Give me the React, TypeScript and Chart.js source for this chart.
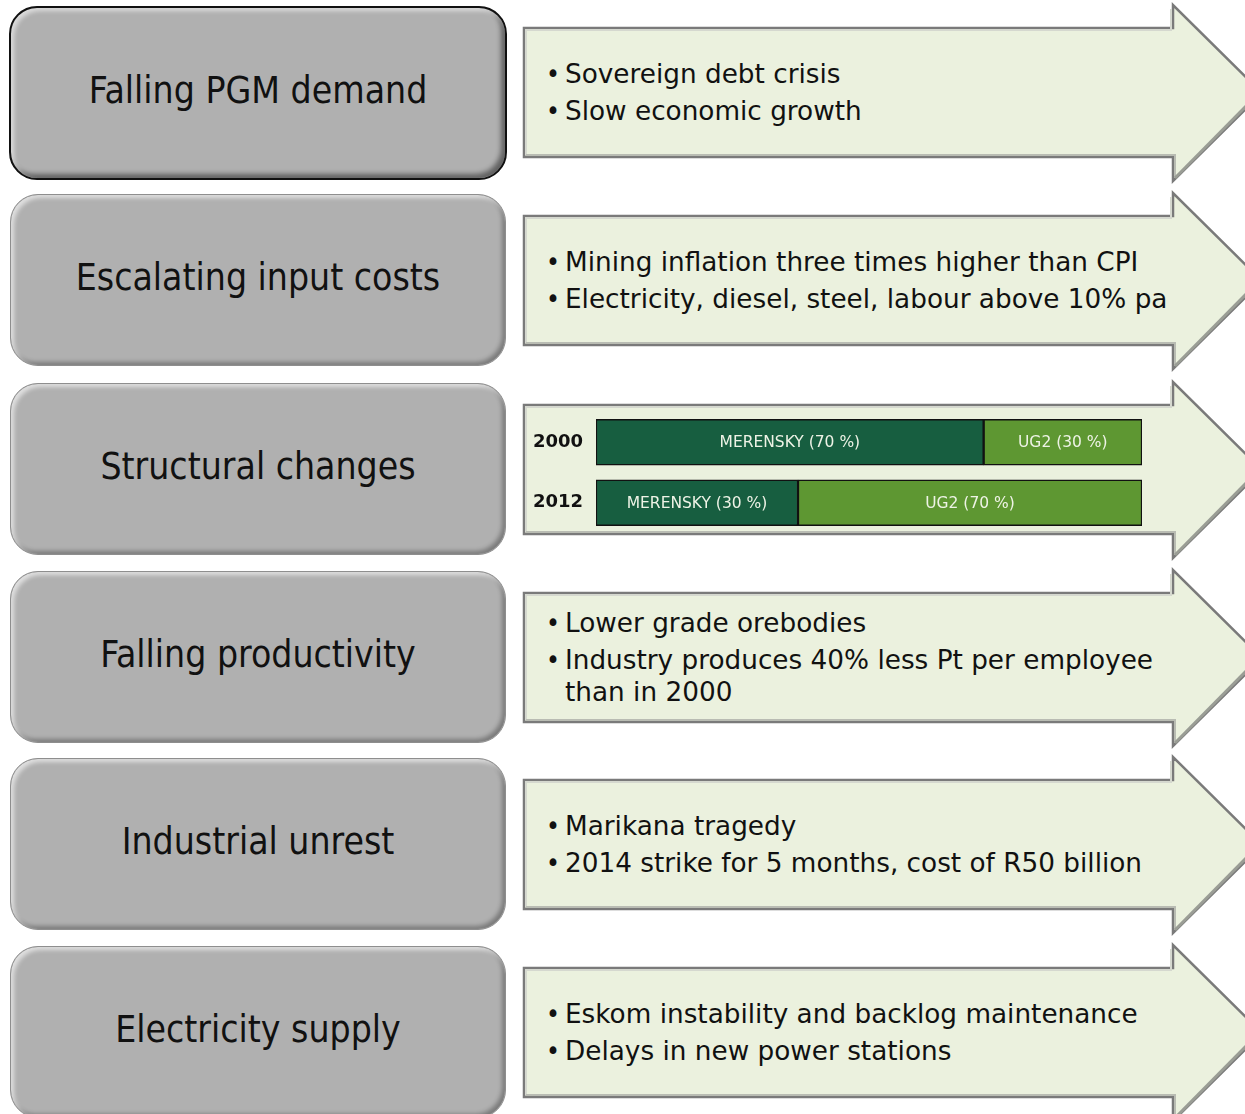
import React, { useEffect, useRef } from "react";
import { Chart, registerables } from "chart.js";

Chart.register(...registerables);

// ---- content ----
const titles = [
  "Falling PGM demand",
  "Escalating input costs",
  "Structural changes",
  "Falling productivity",
  "Industrial unrest",
  "Electricity supply",
];

const bulletsDemand = ["Sovereign debt crisis", "Slow economic growth"];
const bulletsCosts = [
  "Mining inflation three times higher than CPI",
  "Electricity, diesel, steel, labour above 10% pa",
];
const bulletsProductivity = [
  "Lower grade orebodies",
  "Industry produces 40% less Pt per employee than in 2000",
];
const bulletsUnrest = ["Marikana tragedy", "2014 strike for 5 months, cost of R50 billion"];
const bulletsElectricity = [
  "Eskom instability and backlog maintenance",
  "Delays in new power stations",
];

// ---- chart data (structural changes) ----
const years = ["2000", "2012"];
const merensky = [71, 37];
const ug2 = [29, 63];
const merenskyLabels = ["MERENSKY (70 %)", "MERENSKY (30 %)"];
const ug2Labels = ["UG2 (30 %)", "UG2 (70 %)"];

const FONT_C = '"DejaVu Sans Condensed", "DejaVu Sans", sans-serif';
const FONT = '"DejaVu Sans", sans-serif';
const rowTops = [6, 194, 383, 571, 758, 946];

function arrowPoints(T: number) {
  const pts = [
    [524, T + 22],
    [1173, T + 22],
    [1173, T - 1],
    [1262, T + 87],
    [1173, T + 175],
    [1173, T + 151],
    [524, T + 151],
  ];
  return pts.map((p) => p.join(",")).join(" ");
}

function BarChart() {
  const ref = useRef<HTMLCanvasElement | null>(null);
  useEffect(() => {
    if (!ref.current) return;
    const labelsByDataset = [merenskyLabels, ug2Labels];
    const labelPlugin = {
      id: "segLabels",
      afterDatasetsDraw(chart: any) {
        const ctx = chart.ctx;
        ctx.save();
        ctx.font = `15.5px ${FONT}`;
        ctx.fillStyle = "#eef3e6";
        ctx.textAlign = "center";
        ctx.textBaseline = "middle";
        chart.data.datasets.forEach((_ds: any, di: number) => {
          const meta = chart.getDatasetMeta(di);
          meta.data.forEach((bar: any, i: number) => {
            const p = bar.getProps(["x", "y", "base"], true);
            ctx.fillText(labelsByDataset[di][i], (p.x + p.base) / 2, p.y + 1);
          });
        });
        ctx.restore();
      },
    };
    const chart = new Chart(ref.current, {
      type: "bar",
      data: {
        labels: years,
        datasets: [
          {
            label: "Merensky",
            data: merensky,
            backgroundColor: "#175e40",
            borderColor: "#111",
            borderWidth: 1.5,
            borderSkipped: false,
            barThickness: 46,
          },
          {
            label: "UG2",
            data: ug2,
            backgroundColor: "#5e9732",
            borderColor: "#111",
            borderWidth: 1.5,
            borderSkipped: false,
            barThickness: 46,
          },
        ],
      },
      options: {
        indexAxis: "y",
        responsive: false,
        animation: false,
        devicePixelRatio: 1,
        layout: { padding: 0 },
        plugins: { legend: { display: false }, tooltip: { enabled: false } },
        scales: {
          x: { stacked: true, min: 0, max: 100, display: false },
          y: {
            stacked: true,
            grid: { display: false, drawTicks: false },
            border: { display: false },
            ticks: {
              padding: 13,
              color: "#111",
              font: { family: FONT, weight: "bold", size: 18 },
            },
            afterFit(scale: any) {
              scale.width = 66;
              scale.paddingTop = 0;
              scale.paddingBottom = 0;
            },
          },
        },
      },
      plugins: [labelPlugin],
    } as any);
    return () => chart.destroy();
  }, []);
  return (
    <canvas
      ref={ref}
      width={612}
      height={121}
      style={{ position: "absolute", left: 530, top: 412, width: 612, height: 121 }}
    />
  );
}

function Bullets({ items, top }: { items: string[]; top: number }) {
  return (
    <div
      style={{
        position: "absolute",
        left: 546,
        top: top + 22,
        width: 624,
        height: 129,
        display: "flex",
        flexDirection: "column",
        justifyContent: "center",
        fontFamily: FONT,
        fontSize: 26.3,
        lineHeight: "32px",
        color: "#111",
      }}
    >
      {items.map((t, i) => (
        <div key={i} style={{ position: "relative", paddingLeft: 19, marginTop: i ? 5 : 0 }}>
          <span style={{ position: "absolute", left: 0, top: 0, fontFamily: FONT_C }}>•</span>
          {t}
        </div>
      ))}
    </div>
  );
}

export default function App() {
  const bulletLists: (string[] | null)[] = [
    bulletsDemand,
    bulletsCosts,
    null,
    bulletsProductivity,
    bulletsUnrest,
    bulletsElectricity,
  ];
  return (
    <div
      style={{
        position: "absolute",
        left: 0,
        top: 0,
        width: 1245,
        height: 1114,
        overflow: "hidden",
        background: "#fff",
      }}
    >
      <svg width={1245} height={1114} style={{ position: "absolute", left: 0, top: 0 }}>
        {rowTops.map((T, i) => (
          <g key={i}>
            <polygon points={arrowPoints(T)} fill="#ebf1de" stroke="#7a7a7a" strokeWidth={2.5} />
            <polyline
              points={`526,${T + 149} 526,${T + 24} 1171,${T + 24} 1171,${T + 3}`}
              fill="none"
              stroke="#d5d8cf"
              strokeWidth={2}
            />
            <polyline
              points={`1175,${T + 172} 1175,${T + 149} 526,${T + 149}`}
              fill="none"
              stroke="#b9bcb3"
              strokeWidth={2}
            />
            <polyline
              points={`1175,${T + 172} 1259,${T + 87}`}
              fill="none"
              stroke="#9a9d95"
              strokeWidth={3}
            />
          </g>
        ))}
      </svg>
      {rowTops.map((T, i) => (
        <div
          key={i}
          style={{
            position: "absolute",
            left: i === 0 ? 9 : 10,
            top: T,
            width: i === 0 ? 498 : 496,
            height: i === 0 ? 174 : 172,
            boxSizing: "border-box",
            paddingBottom: 5,
            borderRadius: 28,
            background: "#b0b0b0",
            border: i === 0 ? "2px solid #111" : "1px solid #8e8e8e",
            boxShadow:
              i === 0
                ? "inset 3px 3px 4px rgba(255,255,255,0.55), inset -4px -4px 5px rgba(0,0,0,0.45)"
                : "inset 3px 3px 4px rgba(255,255,255,0.6), inset -3px -3px 4px rgba(0,0,0,0.3)",
            display: "flex",
            alignItems: "center",
            justifyContent: "center",
            fontFamily: FONT_C,
            fontSize: 37,
            color: "#111",
          }}
        >
          {titles[i]}
        </div>
      ))}
      {bulletLists.map((b, i) => (b ? <Bullets key={i} items={b} top={rowTops[i]} /> : null))}
      <BarChart />
    </div>
  );
}
